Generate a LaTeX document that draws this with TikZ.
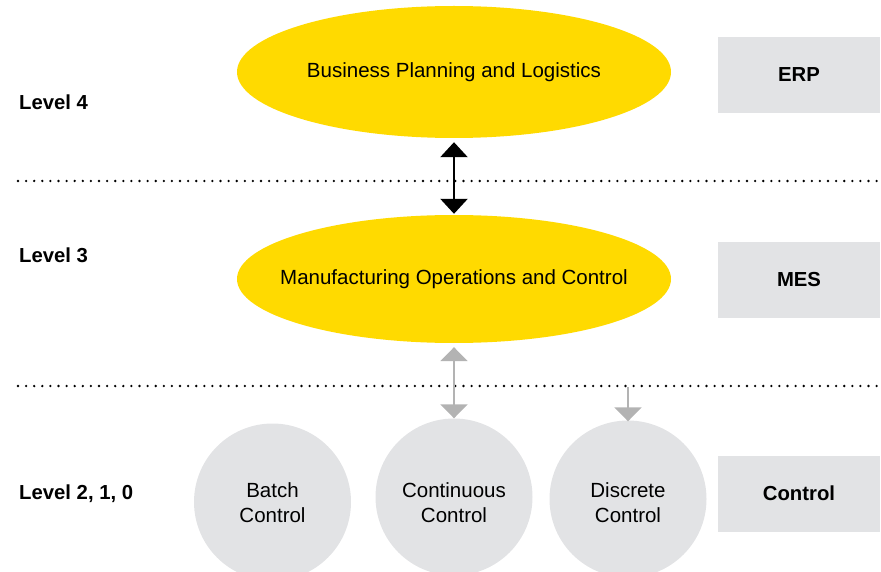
\documentclass[tikz,border=0pt]{standalone}
\usepackage{fontspec}
\setmainfont{Liberation Sans}
\usetikzlibrary{arrows.meta,shapes.geometric}
\definecolor{isayellow}{HTML}{FFDA00}
\definecolor{boxgray}{HTML}{E2E3E5}
\definecolor{arrowgray}{HTML}{B3B3B3}
\tikzset{
  level/.style={anchor=west, font=\fontsize{20.3}{24}\selectfont\bfseries, inner sep=0pt},
  layer/.style={ellipse, fill=isayellow, minimum width=434pt, minimum height=132pt,
    font=\fontsize{20.5}{24}\selectfont, inner sep=0pt},
  sysbox/.style={fill=boxgray, minimum width=162pt, minimum height=76pt,
    font=\fontsize{20.3}{24}\selectfont\bfseries, inner sep=0pt},
  ctrl/.style={circle, fill=boxgray, minimum size=157pt, inner sep=0pt},
  ctrltext/.style={align=center, inner sep=0pt, font=\fontsize{20.5}{25}\selectfont},
  divider/.style={line width=2.6pt, line cap=round, dash pattern=on 0pt off 8.1pt},
  link/.style={line width=2.6pt, {Triangle[width=27pt,length=15pt]}-{Triangle[width=27pt,length=15pt]}},
  glink/.style={arrowgray, line width=2pt, {Triangle[width=27pt,length=14pt]}-{Triangle[width=27pt,length=14pt]}},
  gdown/.style={arrowgray, line width=2pt, -{Triangle[width=27pt,length=14pt]}}
}
\newcommand{\layertext}[1]{\makebox[0pt]{\raisebox{3pt}{#1}}}
\begin{document}
\begin{tikzpicture}[x=1pt,y=-1pt]
  \useasboundingbox (0,0) rectangle (881,572);
  % dotted level dividers
  \coordinate (d1a) at (18,181);
  \coordinate (d1b) at (878,181);
  \coordinate (d2a) at (18,386);
  \coordinate (d2b) at (878,386);
  \draw[divider] (d1a) -- (d1b);
  \draw[divider] (d2a) -- (d2b);

  % level captions
  \node[level] (l4) at (19,102) {Level 4};
  \node[level] (l3) at (19,255) {Level 3};
  \node[level] (l210) at (19,494) {Level 2, 1, 0};

  % yellow layers
  \node[layer] (erpl) at (454,72) {\layertext{Business Planning and Logistics}};
  \node[layer, minimum height=128pt] (mesl) at (454,279) {\layertext{Manufacturing Operations and Control}};

  % system boxes
  \node[sysbox] (erp) at (799,75) {ERP};
  \node[sysbox] (mes) at (799,280) {MES};
  \node[sysbox] (ctl) at (799,493.5) {Control};

  % control circles and their captions
  \node[ctrl] (batch) at (272.5,502) {};
  \node[ctrl] (cont) at (454,497) {};
  \node[ctrl] (disc) at (628,499) {};
  \node[ctrltext] (batcht) at (272.5,503) {Batch\\Control};
  \node[ctrltext] (contt) at (454,503) {Continuous\\Control};
  \node[ctrltext] (disct) at (628,503) {Discrete\\Control};

  % connectors
  \draw[link] ([yshift=-4pt]erpl.south) -- ([yshift=1pt]mesl.north);
  \draw[glink] ([yshift=-4pt]mesl.south) -- (cont.north);
  \coordinate (dtop) at (628,387);
  \draw[gdown] (dtop) -- ([yshift=-1pt]disc.north);
\end{tikzpicture}
\end{document}
